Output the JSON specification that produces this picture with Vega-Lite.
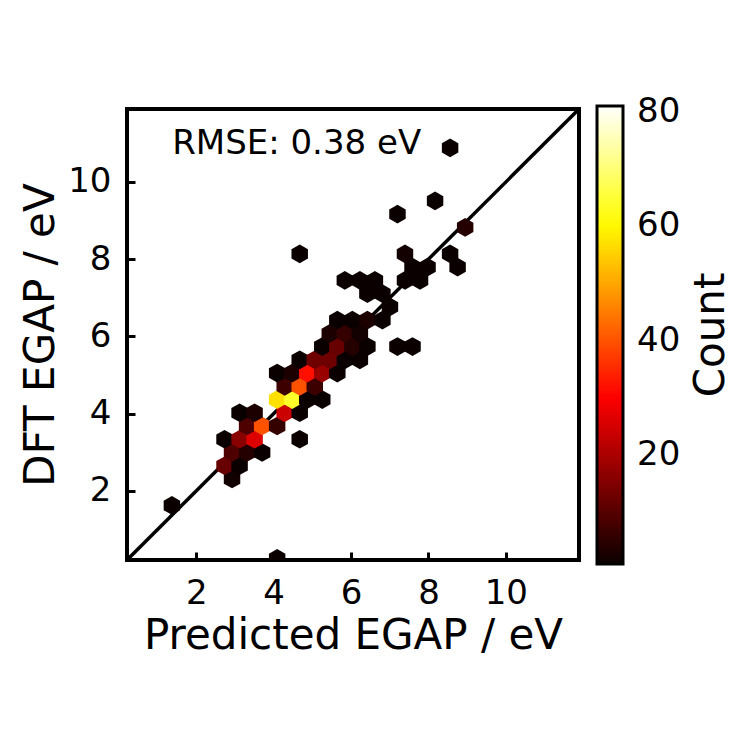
{
  "$schema": "https://vega.github.io/schema/vega-lite/v6.json",
  "width": 452,
  "height": 451,
  "autosize": "none",
  "padding": {"left": 127, "top": 109, "right": 168, "bottom": 187},
  "background": "#ffffff",
  "config": {
    "font": "DejaVu Sans",
    "view": {"stroke": "#000000", "strokeWidth": 4},
    "axis": {
      "domain": false,
      "grid": false,
      "tickSize": -8,
      "tickWidth": 3,
      "tickColor": "#000000",
      "labelFontSize": 34,
      "labelColor": "#000000",
      "labelPadding": 24,
      "titleFontSize": 42,
      "titleFontWeight": "normal",
      "titleColor": "#000000"
    }
  },
  "datasets": {
    "hexes": [
      {"x": 4.090, "y": 0.250, "count": 1},
      {"x": 1.370, "y": 1.622, "count": 1},
      {"x": 2.924, "y": 2.308, "count": 2},
      {"x": 2.730, "y": 2.651, "count": 12},
      {"x": 3.119, "y": 2.651, "count": 1},
      {"x": 2.924, "y": 2.994, "count": 9},
      {"x": 3.313, "y": 2.994, "count": 4},
      {"x": 3.702, "y": 2.994, "count": 1},
      {"x": 2.730, "y": 3.337, "count": 1},
      {"x": 3.119, "y": 3.337, "count": 16},
      {"x": 3.507, "y": 3.337, "count": 26},
      {"x": 4.673, "y": 3.337, "count": 1},
      {"x": 3.313, "y": 3.680, "count": 9},
      {"x": 3.702, "y": 3.680, "count": 40},
      {"x": 4.090, "y": 3.680, "count": 6},
      {"x": 3.119, "y": 4.023, "count": 1},
      {"x": 3.507, "y": 4.023, "count": 3},
      {"x": 4.285, "y": 4.023, "count": 24},
      {"x": 4.673, "y": 4.023, "count": 1},
      {"x": 4.090, "y": 4.366, "count": 57},
      {"x": 4.479, "y": 4.366, "count": 64},
      {"x": 4.867, "y": 4.366, "count": 1},
      {"x": 5.256, "y": 4.366, "count": 1},
      {"x": 4.285, "y": 4.709, "count": 7},
      {"x": 4.673, "y": 4.709, "count": 40},
      {"x": 5.062, "y": 4.709, "count": 7},
      {"x": 4.090, "y": 5.052, "count": 1},
      {"x": 4.479, "y": 5.052, "count": 3},
      {"x": 4.867, "y": 5.052, "count": 32},
      {"x": 5.256, "y": 5.052, "count": 18},
      {"x": 5.645, "y": 5.052, "count": 1},
      {"x": 4.673, "y": 5.395, "count": 1},
      {"x": 5.062, "y": 5.395, "count": 13},
      {"x": 5.450, "y": 5.395, "count": 13},
      {"x": 5.839, "y": 5.395, "count": 1},
      {"x": 6.228, "y": 5.395, "count": 1},
      {"x": 5.256, "y": 5.738, "count": 1},
      {"x": 5.645, "y": 5.738, "count": 12},
      {"x": 6.033, "y": 5.738, "count": 4},
      {"x": 6.422, "y": 5.738, "count": 1},
      {"x": 7.199, "y": 5.738, "count": 1},
      {"x": 7.588, "y": 5.738, "count": 1},
      {"x": 5.450, "y": 6.081, "count": 3},
      {"x": 5.839, "y": 6.081, "count": 6},
      {"x": 6.228, "y": 6.081, "count": 2},
      {"x": 5.645, "y": 6.424, "count": 1},
      {"x": 6.033, "y": 6.424, "count": 1},
      {"x": 6.422, "y": 6.424, "count": 3},
      {"x": 6.810, "y": 6.424, "count": 1},
      {"x": 7.005, "y": 6.767, "count": 1},
      {"x": 6.422, "y": 7.110, "count": 1},
      {"x": 6.810, "y": 7.110, "count": 1},
      {"x": 5.839, "y": 7.453, "count": 1},
      {"x": 6.228, "y": 7.453, "count": 1},
      {"x": 6.616, "y": 7.453, "count": 1},
      {"x": 7.393, "y": 7.453, "count": 1},
      {"x": 7.782, "y": 7.453, "count": 1},
      {"x": 7.588, "y": 7.796, "count": 1},
      {"x": 7.976, "y": 7.796, "count": 1},
      {"x": 8.753, "y": 7.796, "count": 1},
      {"x": 4.673, "y": 8.139, "count": 1},
      {"x": 7.393, "y": 8.139, "count": 2},
      {"x": 8.559, "y": 8.139, "count": 1},
      {"x": 8.948, "y": 8.825, "count": 4},
      {"x": 7.199, "y": 9.168, "count": 1},
      {"x": 8.171, "y": 9.511, "count": 1},
      {"x": 8.559, "y": 10.883, "count": 1}
    ],
    "diagonal": [
      {"x": 0.21, "y": 0.21},
      {"x": 11.89, "y": 11.89}
    ],
    "note": [
      {"label": "RMSE: 0.38 eV"}
    ]
  },
  "layer": [
    {
      "data": {"name": "diagonal"},
      "mark": {"type": "line", "color": "#000000", "strokeWidth": 3.5, "clip": true},
      "encoding": {
        "x": {"field": "x", "type": "quantitative"},
        "y": {
          "field": "y",
          "type": "quantitative",
          "scale": {"domain": [0.21, 11.89], "nice": false, "zero": false},
          "axis": null
        }
      }
    },
    {
      "data": {"name": "hexes"},
      "mark": {
        "type": "point",
        "filled": true,
        "opacity": 1,
        "clip": true,
        "size": 350,
        "shape": "M0,-1L0.88,-0.5L0.88,0.5L0,1L-0.88,0.5L-0.88,-0.5Z"
      },
      "encoding": {
        "x": {
          "field": "x",
          "type": "quantitative",
          "scale": {"domain": [0.21, 11.89], "nice": false, "zero": false},
          "axis": {"title": "Predicted EGAP / eV", "values": [2, 4, 6, 8, 10], "titlePadding": 5}
        },
        "y": {
          "field": "y",
          "type": "quantitative",
          "scale": {"domain": [0.21, 11.89], "nice": false, "zero": false},
          "axis": {"orient": "left", "title": "DFT EGAP / eV", "values": [2, 4, 6, 8, 10], "titlePadding": 5}
        },
        "color": {
          "field": "count",
          "type": "quantitative",
          "scale": {
            "domain": [1, 30.2, 60.7, 81],
            "range": ["#0b0000", "#ff0000", "#ffff00", "#ffffff"],
            "interpolate": "rgb"
          },
          "legend": {
            "title": null,
            "orient": "none",
            "legendX": 470,
            "legendY": -3,
            "direction": "vertical",
            "gradientLength": 458,
            "gradientThickness": 26,
            "gradientStrokeColor": "#000000",
            "gradientStrokeWidth": 3,
            "values": [20, 40, 60, 80],
            "labelFontSize": 34,
            "labelColor": "#000000",
            "labelOffset": 14,
            "padding": 0
          }
        }
      }
    },
    {
      "data": {"name": "note"},
      "mark": {"type": "text", "align": "left", "baseline": "alphabetic", "fontSize": 34, "color": "#000000"},
      "encoding": {
        "x": {"datum": 1.378, "type": "quantitative"},
        "y": {
          "datum": 10.72,
          "type": "quantitative",
          "scale": {"domain": [0.21, 11.89], "nice": false, "zero": false},
          "axis": {
            "orient": "right",
            "title": "Count",
            "labels": false,
            "ticks": false,
            "domain": false,
            "grid": false,
            "titleAngle": 270,
            "titleBaseline": "top",
            "titlePadding": 111
          }
        },
        "text": {"field": "label"}
      }
    }
  ],
  "resolve": {"scale": {"y": "independent"}, "axis": {"y": "independent"}}
}
